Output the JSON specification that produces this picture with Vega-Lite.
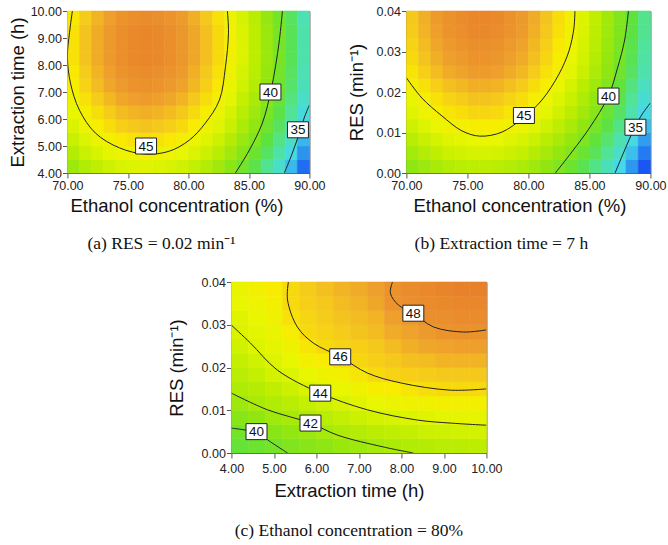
{
"$schema": "https://vega.github.io/schema/vega-lite/v6.json",
"background": "white",
"padding": {"left": 7, "top": 4, "right": 2, "bottom": 2},
"config": {
  "font": "Liberation Sans",
  "view": {"stroke": "#555", "strokeWidth": 1},
  "axis": {"labelFont": "Liberation Sans", "titleFont": "Liberation Sans", "labelFontSize": 12.5, "titleFontSize": 18.5, "titleFontWeight": "normal", "labelColor": "#222", "titleColor": "#111", "domainColor": "#555", "tickColor": "#555", "tickSize": 5, "grid": false, "labelPadding": 1, "labelFlush": false, "labelOverlap": false},
  "title": {"font": "Liberation Serif", "fontSize": 17.5, "fontWeight": "normal", "color": "#111"}
},
"datasets": {
"ha": [
{"i":0,"j":0,"v":41.6},{"i":1,"j":0,"v":42.4},{"i":2,"j":0,"v":43.0},{"i":3,"j":0,"v":43.5},{"i":4,"j":0,"v":43.9},{"i":5,"j":0,"v":44.1},{"i":6,"j":0,"v":44.2},{"i":7,"j":0,"v":44.1},{"i":8,"j":0,"v":43.9},{"i":9,"j":0,"v":43.6},{"i":10,"j":0,"v":43.1},{"i":11,"j":0,"v":42.5},{"i":12,"j":0,"v":41.8},{"i":13,"j":0,"v":40.9},{"i":14,"j":0,"v":39.8},{"i":15,"j":0,"v":38.7},{"i":16,"j":0,"v":37.3},{"i":17,"j":0,"v":35.9},{"i":18,"j":0,"v":34.3},{"i":19,"j":0,"v":32.5},
{"i":0,"j":1,"v":42.5},{"i":1,"j":1,"v":43.3},{"i":2,"j":1,"v":43.9},{"i":3,"j":1,"v":44.4},{"i":4,"j":1,"v":44.8},{"i":5,"j":1,"v":45.0},{"i":6,"j":1,"v":45.1},{"i":7,"j":1,"v":45.0},{"i":8,"j":1,"v":44.8},{"i":9,"j":1,"v":44.5},{"i":10,"j":1,"v":44.0},{"i":11,"j":1,"v":43.4},{"i":12,"j":1,"v":42.7},{"i":13,"j":1,"v":41.8},{"i":14,"j":1,"v":40.7},{"i":15,"j":1,"v":39.6},{"i":16,"j":1,"v":38.2},{"i":17,"j":1,"v":36.8},{"i":18,"j":1,"v":35.2},{"i":19,"j":1,"v":33.4},
{"i":0,"j":2,"v":43.3},{"i":1,"j":2,"v":44.1},{"i":2,"j":2,"v":44.7},{"i":3,"j":2,"v":45.2},{"i":4,"j":2,"v":45.6},{"i":5,"j":2,"v":45.8},{"i":6,"j":2,"v":45.9},{"i":7,"j":2,"v":45.8},{"i":8,"j":2,"v":45.6},{"i":9,"j":2,"v":45.3},{"i":10,"j":2,"v":44.8},{"i":11,"j":2,"v":44.2},{"i":12,"j":2,"v":43.5},{"i":13,"j":2,"v":42.6},{"i":14,"j":2,"v":41.5},{"i":15,"j":2,"v":40.4},{"i":16,"j":2,"v":39.0},{"i":17,"j":2,"v":37.6},{"i":18,"j":2,"v":36.0},{"i":19,"j":2,"v":34.2},
{"i":0,"j":3,"v":44.0},{"i":1,"j":3,"v":44.8},{"i":2,"j":3,"v":45.4},{"i":3,"j":3,"v":45.9},{"i":4,"j":3,"v":46.3},{"i":5,"j":3,"v":46.5},{"i":6,"j":3,"v":46.6},{"i":7,"j":3,"v":46.5},{"i":8,"j":3,"v":46.3},{"i":9,"j":3,"v":46.0},{"i":10,"j":3,"v":45.5},{"i":11,"j":3,"v":44.9},{"i":12,"j":3,"v":44.2},{"i":13,"j":3,"v":43.3},{"i":14,"j":3,"v":42.2},{"i":15,"j":3,"v":41.1},{"i":16,"j":3,"v":39.7},{"i":17,"j":3,"v":38.3},{"i":18,"j":3,"v":36.7},{"i":19,"j":3,"v":34.9},
{"i":0,"j":4,"v":44.5},{"i":1,"j":4,"v":45.3},{"i":2,"j":4,"v":45.9},{"i":3,"j":4,"v":46.4},{"i":4,"j":4,"v":46.8},{"i":5,"j":4,"v":47.0},{"i":6,"j":4,"v":47.1},{"i":7,"j":4,"v":47.0},{"i":8,"j":4,"v":46.8},{"i":9,"j":4,"v":46.5},{"i":10,"j":4,"v":46.0},{"i":11,"j":4,"v":45.4},{"i":12,"j":4,"v":44.7},{"i":13,"j":4,"v":43.8},{"i":14,"j":4,"v":42.7},{"i":15,"j":4,"v":41.6},{"i":16,"j":4,"v":40.2},{"i":17,"j":4,"v":38.8},{"i":18,"j":4,"v":37.2},{"i":19,"j":4,"v":35.4},
{"i":0,"j":5,"v":45.0},{"i":1,"j":5,"v":45.8},{"i":2,"j":5,"v":46.4},{"i":3,"j":5,"v":46.9},{"i":4,"j":5,"v":47.3},{"i":5,"j":5,"v":47.5},{"i":6,"j":5,"v":47.6},{"i":7,"j":5,"v":47.5},{"i":8,"j":5,"v":47.3},{"i":9,"j":5,"v":47.0},{"i":10,"j":5,"v":46.5},{"i":11,"j":5,"v":45.9},{"i":12,"j":5,"v":45.2},{"i":13,"j":5,"v":44.3},{"i":14,"j":5,"v":43.2},{"i":15,"j":5,"v":42.1},{"i":16,"j":5,"v":40.7},{"i":17,"j":5,"v":39.3},{"i":18,"j":5,"v":37.7},{"i":19,"j":5,"v":35.9},
{"i":0,"j":6,"v":45.4},{"i":1,"j":6,"v":46.2},{"i":2,"j":6,"v":46.8},{"i":3,"j":6,"v":47.3},{"i":4,"j":6,"v":47.7},{"i":5,"j":6,"v":47.9},{"i":6,"j":6,"v":48.0},{"i":7,"j":6,"v":47.9},{"i":8,"j":6,"v":47.7},{"i":9,"j":6,"v":47.4},{"i":10,"j":6,"v":46.9},{"i":11,"j":6,"v":46.3},{"i":12,"j":6,"v":45.6},{"i":13,"j":6,"v":44.7},{"i":14,"j":6,"v":43.6},{"i":15,"j":6,"v":42.5},{"i":16,"j":6,"v":41.1},{"i":17,"j":6,"v":39.7},{"i":18,"j":6,"v":38.1},{"i":19,"j":6,"v":36.3},
{"i":0,"j":7,"v":45.6},{"i":1,"j":7,"v":46.4},{"i":2,"j":7,"v":47.0},{"i":3,"j":7,"v":47.5},{"i":4,"j":7,"v":47.9},{"i":5,"j":7,"v":48.1},{"i":6,"j":7,"v":48.2},{"i":7,"j":7,"v":48.1},{"i":8,"j":7,"v":47.9},{"i":9,"j":7,"v":47.6},{"i":10,"j":7,"v":47.1},{"i":11,"j":7,"v":46.5},{"i":12,"j":7,"v":45.8},{"i":13,"j":7,"v":44.9},{"i":14,"j":7,"v":43.8},{"i":15,"j":7,"v":42.7},{"i":16,"j":7,"v":41.3},{"i":17,"j":7,"v":39.9},{"i":18,"j":7,"v":38.3},{"i":19,"j":7,"v":36.5},
{"i":0,"j":8,"v":45.8},{"i":1,"j":8,"v":46.6},{"i":2,"j":8,"v":47.2},{"i":3,"j":8,"v":47.7},{"i":4,"j":8,"v":48.1},{"i":5,"j":8,"v":48.3},{"i":6,"j":8,"v":48.4},{"i":7,"j":8,"v":48.3},{"i":8,"j":8,"v":48.1},{"i":9,"j":8,"v":47.8},{"i":10,"j":8,"v":47.3},{"i":11,"j":8,"v":46.7},{"i":12,"j":8,"v":46.0},{"i":13,"j":8,"v":45.1},{"i":14,"j":8,"v":44.0},{"i":15,"j":8,"v":42.9},{"i":16,"j":8,"v":41.5},{"i":17,"j":8,"v":40.1},{"i":18,"j":8,"v":38.5},{"i":19,"j":8,"v":36.7},
{"i":0,"j":9,"v":45.8},{"i":1,"j":9,"v":46.6},{"i":2,"j":9,"v":47.2},{"i":3,"j":9,"v":47.7},{"i":4,"j":9,"v":48.1},{"i":5,"j":9,"v":48.3},{"i":6,"j":9,"v":48.4},{"i":7,"j":9,"v":48.3},{"i":8,"j":9,"v":48.1},{"i":9,"j":9,"v":47.8},{"i":10,"j":9,"v":47.3},{"i":11,"j":9,"v":46.7},{"i":12,"j":9,"v":46.0},{"i":13,"j":9,"v":45.1},{"i":14,"j":9,"v":44.0},{"i":15,"j":9,"v":42.9},{"i":16,"j":9,"v":41.5},{"i":17,"j":9,"v":40.1},{"i":18,"j":9,"v":38.5},{"i":19,"j":9,"v":36.7},
{"i":0,"j":10,"v":45.8},{"i":1,"j":10,"v":46.6},{"i":2,"j":10,"v":47.2},{"i":3,"j":10,"v":47.7},{"i":4,"j":10,"v":48.1},{"i":5,"j":10,"v":48.3},{"i":6,"j":10,"v":48.4},{"i":7,"j":10,"v":48.3},{"i":8,"j":10,"v":48.1},{"i":9,"j":10,"v":47.8},{"i":10,"j":10,"v":47.3},{"i":11,"j":10,"v":46.7},{"i":12,"j":10,"v":46.0},{"i":13,"j":10,"v":45.1},{"i":14,"j":10,"v":44.0},{"i":15,"j":10,"v":42.9},{"i":16,"j":10,"v":41.5},{"i":17,"j":10,"v":40.1},{"i":18,"j":10,"v":38.5},{"i":19,"j":10,"v":36.7},
{"i":0,"j":11,"v":45.6},{"i":1,"j":11,"v":46.4},{"i":2,"j":11,"v":47.0},{"i":3,"j":11,"v":47.5},{"i":4,"j":11,"v":47.9},{"i":5,"j":11,"v":48.1},{"i":6,"j":11,"v":48.2},{"i":7,"j":11,"v":48.1},{"i":8,"j":11,"v":47.9},{"i":9,"j":11,"v":47.6},{"i":10,"j":11,"v":47.1},{"i":11,"j":11,"v":46.5},{"i":12,"j":11,"v":45.8},{"i":13,"j":11,"v":44.9},{"i":14,"j":11,"v":43.8},{"i":15,"j":11,"v":42.7},{"i":16,"j":11,"v":41.3},{"i":17,"j":11,"v":39.9},{"i":18,"j":11,"v":38.3},{"i":19,"j":11,"v":36.5}
],
"hb": [
{"i":0,"j":0,"v":41.0},{"i":1,"j":0,"v":41.6},{"i":2,"j":0,"v":42.1},{"i":3,"j":0,"v":42.5},{"i":4,"j":0,"v":42.7},{"i":5,"j":0,"v":42.9},{"i":6,"j":0,"v":42.9},{"i":7,"j":0,"v":42.8},{"i":8,"j":0,"v":42.5},{"i":9,"j":0,"v":42.2},{"i":10,"j":0,"v":41.7},{"i":11,"j":0,"v":41.1},{"i":12,"j":0,"v":40.4},{"i":13,"j":0,"v":39.6},{"i":14,"j":0,"v":38.6},{"i":15,"j":0,"v":37.5},{"i":16,"j":0,"v":36.3},{"i":17,"j":0,"v":35.0},{"i":18,"j":0,"v":33.5},{"i":19,"j":0,"v":31.9},
{"i":0,"j":1,"v":41.9},{"i":1,"j":1,"v":42.5},{"i":2,"j":1,"v":43.0},{"i":3,"j":1,"v":43.4},{"i":4,"j":1,"v":43.6},{"i":5,"j":1,"v":43.8},{"i":6,"j":1,"v":43.8},{"i":7,"j":1,"v":43.7},{"i":8,"j":1,"v":43.4},{"i":9,"j":1,"v":43.1},{"i":10,"j":1,"v":42.6},{"i":11,"j":1,"v":42.0},{"i":12,"j":1,"v":41.3},{"i":13,"j":1,"v":40.5},{"i":14,"j":1,"v":39.5},{"i":15,"j":1,"v":38.4},{"i":16,"j":1,"v":37.2},{"i":17,"j":1,"v":35.9},{"i":18,"j":1,"v":34.4},{"i":19,"j":1,"v":32.8},
{"i":0,"j":2,"v":42.7},{"i":1,"j":2,"v":43.3},{"i":2,"j":2,"v":43.8},{"i":3,"j":2,"v":44.2},{"i":4,"j":2,"v":44.4},{"i":5,"j":2,"v":44.6},{"i":6,"j":2,"v":44.6},{"i":7,"j":2,"v":44.5},{"i":8,"j":2,"v":44.2},{"i":9,"j":2,"v":43.9},{"i":10,"j":2,"v":43.4},{"i":11,"j":2,"v":42.8},{"i":12,"j":2,"v":42.1},{"i":13,"j":2,"v":41.3},{"i":14,"j":2,"v":40.3},{"i":15,"j":2,"v":39.2},{"i":16,"j":2,"v":38.0},{"i":17,"j":2,"v":36.7},{"i":18,"j":2,"v":35.2},{"i":19,"j":2,"v":33.6},
{"i":0,"j":3,"v":43.5},{"i":1,"j":3,"v":44.1},{"i":2,"j":3,"v":44.6},{"i":3,"j":3,"v":45.0},{"i":4,"j":3,"v":45.2},{"i":5,"j":3,"v":45.4},{"i":6,"j":3,"v":45.4},{"i":7,"j":3,"v":45.3},{"i":8,"j":3,"v":45.0},{"i":9,"j":3,"v":44.7},{"i":10,"j":3,"v":44.2},{"i":11,"j":3,"v":43.6},{"i":12,"j":3,"v":42.9},{"i":13,"j":3,"v":42.1},{"i":14,"j":3,"v":41.1},{"i":15,"j":3,"v":40.0},{"i":16,"j":3,"v":38.8},{"i":17,"j":3,"v":37.5},{"i":18,"j":3,"v":36.0},{"i":19,"j":3,"v":34.4},
{"i":0,"j":4,"v":44.2},{"i":1,"j":4,"v":44.8},{"i":2,"j":4,"v":45.3},{"i":3,"j":4,"v":45.7},{"i":4,"j":4,"v":45.9},{"i":5,"j":4,"v":46.1},{"i":6,"j":4,"v":46.1},{"i":7,"j":4,"v":46.0},{"i":8,"j":4,"v":45.7},{"i":9,"j":4,"v":45.4},{"i":10,"j":4,"v":44.9},{"i":11,"j":4,"v":44.3},{"i":12,"j":4,"v":43.6},{"i":13,"j":4,"v":42.8},{"i":14,"j":4,"v":41.8},{"i":15,"j":4,"v":40.7},{"i":16,"j":4,"v":39.5},{"i":17,"j":4,"v":38.2},{"i":18,"j":4,"v":36.7},{"i":19,"j":4,"v":35.1},
{"i":0,"j":5,"v":44.7},{"i":1,"j":5,"v":45.3},{"i":2,"j":5,"v":45.8},{"i":3,"j":5,"v":46.2},{"i":4,"j":5,"v":46.4},{"i":5,"j":5,"v":46.6},{"i":6,"j":5,"v":46.6},{"i":7,"j":5,"v":46.5},{"i":8,"j":5,"v":46.2},{"i":9,"j":5,"v":45.9},{"i":10,"j":5,"v":45.4},{"i":11,"j":5,"v":44.8},{"i":12,"j":5,"v":44.1},{"i":13,"j":5,"v":43.3},{"i":14,"j":5,"v":42.3},{"i":15,"j":5,"v":41.2},{"i":16,"j":5,"v":40.0},{"i":17,"j":5,"v":38.7},{"i":18,"j":5,"v":37.2},{"i":19,"j":5,"v":35.6},
{"i":0,"j":6,"v":45.2},{"i":1,"j":6,"v":45.8},{"i":2,"j":6,"v":46.3},{"i":3,"j":6,"v":46.7},{"i":4,"j":6,"v":46.9},{"i":5,"j":6,"v":47.1},{"i":6,"j":6,"v":47.1},{"i":7,"j":6,"v":47.0},{"i":8,"j":6,"v":46.7},{"i":9,"j":6,"v":46.4},{"i":10,"j":6,"v":45.9},{"i":11,"j":6,"v":45.3},{"i":12,"j":6,"v":44.6},{"i":13,"j":6,"v":43.8},{"i":14,"j":6,"v":42.8},{"i":15,"j":6,"v":41.7},{"i":16,"j":6,"v":40.5},{"i":17,"j":6,"v":39.2},{"i":18,"j":6,"v":37.7},{"i":19,"j":6,"v":36.1},
{"i":0,"j":7,"v":45.7},{"i":1,"j":7,"v":46.3},{"i":2,"j":7,"v":46.8},{"i":3,"j":7,"v":47.2},{"i":4,"j":7,"v":47.4},{"i":5,"j":7,"v":47.6},{"i":6,"j":7,"v":47.6},{"i":7,"j":7,"v":47.5},{"i":8,"j":7,"v":47.2},{"i":9,"j":7,"v":46.9},{"i":10,"j":7,"v":46.4},{"i":11,"j":7,"v":45.8},{"i":12,"j":7,"v":45.1},{"i":13,"j":7,"v":44.3},{"i":14,"j":7,"v":43.3},{"i":15,"j":7,"v":42.2},{"i":16,"j":7,"v":41.0},{"i":17,"j":7,"v":39.7},{"i":18,"j":7,"v":38.2},{"i":19,"j":7,"v":36.6},
{"i":0,"j":8,"v":46.0},{"i":1,"j":8,"v":46.6},{"i":2,"j":8,"v":47.1},{"i":3,"j":8,"v":47.5},{"i":4,"j":8,"v":47.7},{"i":5,"j":8,"v":47.9},{"i":6,"j":8,"v":47.9},{"i":7,"j":8,"v":47.8},{"i":8,"j":8,"v":47.5},{"i":9,"j":8,"v":47.2},{"i":10,"j":8,"v":46.7},{"i":11,"j":8,"v":46.1},{"i":12,"j":8,"v":45.4},{"i":13,"j":8,"v":44.6},{"i":14,"j":8,"v":43.6},{"i":15,"j":8,"v":42.5},{"i":16,"j":8,"v":41.3},{"i":17,"j":8,"v":40.0},{"i":18,"j":8,"v":38.5},{"i":19,"j":8,"v":36.9},
{"i":0,"j":9,"v":46.2},{"i":1,"j":9,"v":46.8},{"i":2,"j":9,"v":47.3},{"i":3,"j":9,"v":47.7},{"i":4,"j":9,"v":47.9},{"i":5,"j":9,"v":48.1},{"i":6,"j":9,"v":48.1},{"i":7,"j":9,"v":48.0},{"i":8,"j":9,"v":47.7},{"i":9,"j":9,"v":47.4},{"i":10,"j":9,"v":46.9},{"i":11,"j":9,"v":46.3},{"i":12,"j":9,"v":45.6},{"i":13,"j":9,"v":44.8},{"i":14,"j":9,"v":43.8},{"i":15,"j":9,"v":42.7},{"i":16,"j":9,"v":41.5},{"i":17,"j":9,"v":40.2},{"i":18,"j":9,"v":38.7},{"i":19,"j":9,"v":37.1},
{"i":0,"j":10,"v":46.4},{"i":1,"j":10,"v":47.0},{"i":2,"j":10,"v":47.5},{"i":3,"j":10,"v":47.9},{"i":4,"j":10,"v":48.1},{"i":5,"j":10,"v":48.3},{"i":6,"j":10,"v":48.3},{"i":7,"j":10,"v":48.2},{"i":8,"j":10,"v":47.9},{"i":9,"j":10,"v":47.6},{"i":10,"j":10,"v":47.1},{"i":11,"j":10,"v":46.5},{"i":12,"j":10,"v":45.8},{"i":13,"j":10,"v":45.0},{"i":14,"j":10,"v":44.0},{"i":15,"j":10,"v":42.9},{"i":16,"j":10,"v":41.7},{"i":17,"j":10,"v":40.4},{"i":18,"j":10,"v":38.9},{"i":19,"j":10,"v":37.3},
{"i":0,"j":11,"v":46.5},{"i":1,"j":11,"v":47.1},{"i":2,"j":11,"v":47.6},{"i":3,"j":11,"v":48.0},{"i":4,"j":11,"v":48.2},{"i":5,"j":11,"v":48.4},{"i":6,"j":11,"v":48.4},{"i":7,"j":11,"v":48.3},{"i":8,"j":11,"v":48.0},{"i":9,"j":11,"v":47.7},{"i":10,"j":11,"v":47.2},{"i":11,"j":11,"v":46.6},{"i":12,"j":11,"v":45.9},{"i":13,"j":11,"v":45.1},{"i":14,"j":11,"v":44.1},{"i":15,"j":11,"v":43.0},{"i":16,"j":11,"v":41.8},{"i":17,"j":11,"v":40.5},{"i":18,"j":11,"v":39.0},{"i":19,"j":11,"v":37.4}
],
"hc": [
{"i":0,"j":0,"v":39.3},{"i":1,"j":0,"v":39.6},{"i":2,"j":0,"v":39.9},{"i":3,"j":0,"v":40.4},{"i":4,"j":0,"v":40.7},{"i":5,"j":0,"v":41.0},{"i":6,"j":0,"v":41.4},{"i":7,"j":0,"v":41.6},{"i":8,"j":0,"v":41.9},{"i":9,"j":0,"v":42.2},{"i":10,"j":0,"v":42.4},{"i":11,"j":0,"v":42.6},{"i":12,"j":0,"v":42.7},{"i":13,"j":0,"v":42.8},{"i":14,"j":0,"v":42.9},
{"i":0,"j":1,"v":39.9},{"i":1,"j":1,"v":40.1},{"i":2,"j":1,"v":40.8},{"i":3,"j":1,"v":41.2},{"i":4,"j":1,"v":41.5},{"i":5,"j":1,"v":41.9},{"i":6,"j":1,"v":42.3},{"i":7,"j":1,"v":42.5},{"i":8,"j":1,"v":42.8},{"i":9,"j":1,"v":43.0},{"i":10,"j":1,"v":43.2},{"i":11,"j":1,"v":43.4},{"i":12,"j":1,"v":43.5},{"i":13,"j":1,"v":43.6},{"i":14,"j":1,"v":43.7},
{"i":0,"j":2,"v":40.8},{"i":1,"j":2,"v":41.1},{"i":2,"j":2,"v":41.7},{"i":3,"j":2,"v":42.0},{"i":4,"j":2,"v":42.3},{"i":5,"j":2,"v":42.7},{"i":6,"j":2,"v":43.1},{"i":7,"j":2,"v":43.4},{"i":8,"j":2,"v":43.7},{"i":9,"j":2,"v":43.9},{"i":10,"j":2,"v":44.1},{"i":11,"j":2,"v":44.2},{"i":12,"j":2,"v":44.3},{"i":13,"j":2,"v":44.4},{"i":14,"j":2,"v":44.4},
{"i":0,"j":3,"v":41.6},{"i":1,"j":3,"v":42.1},{"i":2,"j":3,"v":42.4},{"i":3,"j":3,"v":42.7},{"i":4,"j":3,"v":43.1},{"i":5,"j":3,"v":43.5},{"i":6,"j":3,"v":43.9},{"i":7,"j":3,"v":44.2},{"i":8,"j":3,"v":44.5},{"i":9,"j":3,"v":44.7},{"i":10,"j":3,"v":44.9},{"i":11,"j":3,"v":45.0},{"i":12,"j":3,"v":45.2},{"i":13,"j":3,"v":45.2},{"i":14,"j":3,"v":45.2},
{"i":0,"j":4,"v":42.3},{"i":1,"j":4,"v":42.6},{"i":2,"j":4,"v":43.0},{"i":3,"j":4,"v":43.4},{"i":4,"j":4,"v":43.9},{"i":5,"j":4,"v":44.3},{"i":6,"j":4,"v":44.6},{"i":7,"j":4,"v":44.9},{"i":8,"j":4,"v":45.3},{"i":9,"j":4,"v":45.5},{"i":10,"j":4,"v":45.7},{"i":11,"j":4,"v":45.9},{"i":12,"j":4,"v":46.0},{"i":13,"j":4,"v":46.0},{"i":14,"j":4,"v":46.0},
{"i":0,"j":5,"v":42.7},{"i":1,"j":5,"v":43.1},{"i":2,"j":5,"v":43.7},{"i":3,"j":5,"v":44.1},{"i":4,"j":5,"v":44.5},{"i":5,"j":5,"v":44.9},{"i":6,"j":5,"v":45.2},{"i":7,"j":5,"v":45.7},{"i":8,"j":5,"v":46.0},{"i":9,"j":5,"v":46.2},{"i":10,"j":5,"v":46.3},{"i":11,"j":5,"v":46.4},{"i":12,"j":5,"v":46.5},{"i":13,"j":5,"v":46.5},{"i":14,"j":5,"v":46.5},
{"i":0,"j":6,"v":43.2},{"i":1,"j":6,"v":43.6},{"i":2,"j":6,"v":44.1},{"i":3,"j":6,"v":44.5},{"i":4,"j":6,"v":45.1},{"i":5,"j":6,"v":45.5},{"i":6,"j":6,"v":45.9},{"i":7,"j":6,"v":46.1},{"i":8,"j":6,"v":46.3},{"i":9,"j":6,"v":46.5},{"i":10,"j":6,"v":46.7},{"i":11,"j":6,"v":46.8},{"i":12,"j":6,"v":47.0},{"i":13,"j":6,"v":47.0},{"i":14,"j":6,"v":47.0},
{"i":0,"j":7,"v":43.6},{"i":1,"j":7,"v":44.1},{"i":2,"j":7,"v":44.4},{"i":3,"j":7,"v":44.9},{"i":4,"j":7,"v":45.7},{"i":5,"j":7,"v":46.0},{"i":6,"j":7,"v":46.2},{"i":7,"j":7,"v":46.3},{"i":8,"j":7,"v":46.5},{"i":9,"j":7,"v":46.8},{"i":10,"j":7,"v":47.1},{"i":11,"j":7,"v":47.3},{"i":12,"j":7,"v":47.4},{"i":13,"j":7,"v":47.5},{"i":14,"j":7,"v":47.5},
{"i":0,"j":8,"v":44.0},{"i":1,"j":8,"v":44.3},{"i":2,"j":8,"v":44.7},{"i":3,"j":8,"v":45.3},{"i":4,"j":8,"v":46.0},{"i":5,"j":8,"v":46.2},{"i":6,"j":8,"v":46.4},{"i":7,"j":8,"v":46.6},{"i":8,"j":8,"v":46.8},{"i":9,"j":8,"v":47.2},{"i":10,"j":8,"v":47.4},{"i":11,"j":8,"v":47.7},{"i":12,"j":8,"v":47.9},{"i":13,"j":8,"v":48.0},{"i":14,"j":8,"v":48.0},
{"i":0,"j":9,"v":44.2},{"i":1,"j":9,"v":44.6},{"i":2,"j":9,"v":44.9},{"i":3,"j":9,"v":45.8},{"i":4,"j":9,"v":46.1},{"i":5,"j":9,"v":46.4},{"i":6,"j":9,"v":46.6},{"i":7,"j":9,"v":46.8},{"i":8,"j":9,"v":47.0},{"i":9,"j":9,"v":47.5},{"i":10,"j":9,"v":47.8},{"i":11,"j":9,"v":48.1},{"i":12,"j":9,"v":48.1},{"i":13,"j":9,"v":48.2},{"i":14,"j":9,"v":48.2},
{"i":0,"j":10,"v":44.5},{"i":1,"j":10,"v":44.8},{"i":2,"j":10,"v":45.2},{"i":3,"j":10,"v":46.0},{"i":4,"j":10,"v":46.3},{"i":5,"j":10,"v":46.5},{"i":6,"j":10,"v":46.8},{"i":7,"j":10,"v":47.0},{"i":8,"j":10,"v":47.3},{"i":9,"j":10,"v":47.9},{"i":10,"j":10,"v":48.1},{"i":11,"j":10,"v":48.2},{"i":12,"j":10,"v":48.3},{"i":13,"j":10,"v":48.4},{"i":14,"j":10,"v":48.4},
{"i":0,"j":11,"v":44.7},{"i":1,"j":11,"v":45.1},{"i":2,"j":11,"v":45.5},{"i":3,"j":11,"v":46.0},{"i":4,"j":11,"v":46.4},{"i":5,"j":11,"v":46.7},{"i":6,"j":11,"v":47.0},{"i":7,"j":11,"v":47.2},{"i":8,"j":11,"v":47.5},{"i":9,"j":11,"v":48.0},{"i":10,"j":11,"v":48.2},{"i":11,"j":11,"v":48.3},{"i":12,"j":11,"v":48.5},{"i":13,"j":11,"v":48.6},{"i":14,"j":11,"v":48.6}
],
"ca": [
{"lv":"45","o":0,"x":70.41,"y":10.0},{"lv":"45","o":1,"x":70.17,"y":9.19},{"lv":"45","o":2,"x":70.0,"y":8.3},{"lv":"45","o":3,"x":70.25,"y":7.33},{"lv":"45","o":4,"x":70.99,"y":6.33},{"lv":"45","o":5,"x":72.31,"y":5.48},{"lv":"45","o":6,"x":74.3,"y":4.93},{"lv":"45","o":7,"x":76.45,"y":4.7},{"lv":"45","o":8,"x":78.43,"y":4.81},{"lv":"45","o":9,"x":80.08,"y":5.22},{"lv":"45","o":10,"x":81.4,"y":5.85},{"lv":"45","o":11,"x":82.56,"y":6.7},{"lv":"45","o":12,"x":83.06,"y":7.93},{"lv":"45","o":13,"x":83.31,"y":9.19},{"lv":"45","o":14,"x":83.22,"y":10.0},
{"lv":"40","o":0,"x":83.88,"y":4.0},{"lv":"40","o":1,"x":85.04,"y":4.85},{"lv":"40","o":2,"x":86.11,"y":5.85},{"lv":"40","o":3,"x":86.78,"y":6.96},{"lv":"40","o":4,"x":87.19,"y":7.93},{"lv":"40","o":5,"x":87.52,"y":8.93},{"lv":"40","o":6,"x":87.77,"y":10.0},
{"lv":"35","o":0,"x":87.93,"y":4.0},{"lv":"35","o":1,"x":88.59,"y":4.74},{"lv":"35","o":2,"x":89.17,"y":5.48},{"lv":"35","o":3,"x":89.59,"y":6.07},{"lv":"35","o":4,"x":90.0,"y":6.52}
],
"la": [{"lv":"45","x":76.5,"y":5.0},{"lv":"40","x":86.78,"y":7.0},{"lv":"35","x":89.05,"y":5.6}],
"cb": [
{"lv":"45","o":0,"x":70.0,"y":0.0235},{"lv":"45","o":1,"x":71.27,"y":0.0185},{"lv":"45","o":2,"x":72.91,"y":0.0141},{"lv":"45","o":3,"x":74.55,"y":0.0104},{"lv":"45","o":4,"x":76.02,"y":0.0091},{"lv":"45","o":5,"x":77.83,"y":0.0101},{"lv":"45","o":6,"x":79.63,"y":0.0138},{"lv":"45","o":7,"x":81.1,"y":0.018},{"lv":"45","o":8,"x":82.5,"y":0.0244},{"lv":"45","o":9,"x":83.32,"y":0.0301},{"lv":"45","o":10,"x":83.73,"y":0.0358},{"lv":"45","o":11,"x":83.81,"y":0.04},
{"lv":"40","o":0,"x":82.21,"y":0.0},{"lv":"40","o":1,"x":83.61,"y":0.0054},{"lv":"40","o":2,"x":85.0,"y":0.0111},{"lv":"40","o":3,"x":86.56,"y":0.019},{"lv":"40","o":4,"x":87.3,"y":0.0259},{"lv":"40","o":5,"x":87.87,"y":0.0326},{"lv":"40","o":6,"x":88.2,"y":0.04},
{"lv":"35","o":0,"x":87.1,"y":0.0},{"lv":"35","o":1,"x":87.85,"y":0.0054},{"lv":"35","o":2,"x":88.69,"y":0.0111},{"lv":"35","o":3,"x":89.34,"y":0.0146},{"lv":"35","o":4,"x":90.0,"y":0.0173}
],
"lb": [{"lv":"45","x":79.63,"y":0.0142},{"lv":"40","x":86.56,"y":0.019},{"lv":"35","x":88.77,"y":0.0113}],
"cc": [
{"lv":"48","o":0,"x":7.79,"y":0.04},{"lv":"48","o":1,"x":7.74,"y":0.0374},{"lv":"48","o":2,"x":7.93,"y":0.0346},{"lv":"48","o":3,"x":8.28,"y":0.0327},{"lv":"48","o":4,"x":8.75,"y":0.0295},{"lv":"48","o":5,"x":9.46,"y":0.0283},{"lv":"48","o":6,"x":10.0,"y":0.0288},
{"lv":"46","o":0,"x":5.34,"y":0.04},{"lv":"46","o":1,"x":5.32,"y":0.0358},{"lv":"46","o":2,"x":5.55,"y":0.0295},{"lv":"46","o":3,"x":5.93,"y":0.0257},{"lv":"46","o":4,"x":6.56,"y":0.0225},{"lv":"46","o":5,"x":7.2,"y":0.0187},{"lv":"46","o":6,"x":7.98,"y":0.0164},{"lv":"46","o":7,"x":9.15,"y":0.0147},{"lv":"46","o":8,"x":10.0,"y":0.015},
{"lv":"44","o":0,"x":4.0,"y":0.0299},{"lv":"44","o":1,"x":4.45,"y":0.0257},{"lv":"44","o":2,"x":5.08,"y":0.0194},{"lv":"44","o":3,"x":6.09,"y":0.014},{"lv":"44","o":4,"x":7.2,"y":0.0101},{"lv":"44","o":5,"x":8.38,"y":0.0077},{"lv":"44","o":6,"x":9.15,"y":0.007},{"lv":"44","o":7,"x":10.0,"y":0.0065},
{"lv":"42","o":0,"x":4.0,"y":0.014},{"lv":"42","o":1,"x":4.85,"y":0.0101},{"lv":"42","o":2,"x":5.86,"y":0.007},{"lv":"42","o":3,"x":6.49,"y":0.0042},{"lv":"42","o":4,"x":7.58,"y":0.0014},{"lv":"42","o":5,"x":8.28,"y":0.0},
{"lv":"40","o":0,"x":4.0,"y":0.0058},{"lv":"40","o":1,"x":4.61,"y":0.0047},{"lv":"40","o":2,"x":4.92,"y":0.0026},{"lv":"40","o":3,"x":5.32,"y":0.0}
],
"lc": [{"lv":"48","x":8.28,"y":0.0327},{"lv":"46","x":6.56,"y":0.0225},{"lv":"44","x":6.09,"y":0.014},{"lv":"42","x":5.86,"y":0.007},{"lv":"40","x":4.59,"y":0.005}]
},
"vconcat": [
{
"hconcat": [
{
"width": 242, "height": 162,
"title": {"text": "(a) RES = 0.02 min⁻¹", "orient": "bottom", "anchor": "middle", "offset": 20, "dx": -27},
"layer": [
{"data": {"name": "ha"}, "mark": {"type": "rect", "strokeWidth": 0.6},
 "encoding": {
  "x": {"field": "i", "type": "ordinal", "axis": null, "scale": {"paddingInner": 0, "paddingOuter": 0}},
  "y": {"field": "j", "type": "ordinal", "axis": null, "sort": "descending", "scale": {"paddingInner": 0, "paddingOuter": 0}},
  "fill": {"field": "v", "type": "quantitative", "legend": null, "scale": {"type": "linear", "domain": [30,32.5,35,37,39,41,43,44.5,45.5,46.5,47.5,48.5,50], "range": ["#0a10f0","#1f6ef2","#45d8e8","#4fe3a0","#5ee23c","#8ee612","#c0ee00","#e8f600","#f8ec00","#f5c81c","#ee9f2c","#e8842a","#e05a26"], "interpolate": "rgb", "clamp": true}},
  "stroke": {"field": "v", "type": "quantitative", "legend": null, "scale": {"type": "linear", "domain": [30,32.5,35,37,39,41,43,44.5,45.5,46.5,47.5,48.5,50], "range": ["#0a10f0","#1f6ef2","#45d8e8","#4fe3a0","#5ee23c","#8ee612","#c0ee00","#e8f600","#f8ec00","#f5c81c","#ee9f2c","#e8842a","#e05a26"], "interpolate": "rgb", "clamp": true}}
 }},
{"data": {"name": "ca"}, "mark": {"type": "line", "interpolate": "catmull-rom", "stroke": "#222", "strokeWidth": 1, "clip": true},
 "encoding": {
  "x": {"field": "x", "type": "quantitative", "scale": {"domain": [70, 90], "nice": false, "zero": false}, "axis": {"orient": "bottom", "values": [70,75,80,85,90], "format": ".2f", "title": "Ethanol concentration (%)", "titlePadding": 5, "titleX": 109}},
  "y": {"field": "y", "type": "quantitative", "scale": {"domain": [4, 10], "nice": false, "zero": false}, "axis": {"orient": "left", "values": [4,5,6,7,8,9,10], "format": ".2f", "title": "Extraction time (h)", "titlePadding": 3}},
  "detail": {"field": "lv"},
  "order": {"field": "o", "type": "quantitative"}
 }},
{"data": {"name": "la"}, "mark": {"type": "point", "shape": "M-1.31,-1H1.31V1H-1.31Z", "filled": true, "fill": "white", "stroke": "#222", "strokeWidth": 1, "size": 256, "opacity": 1},
 "encoding": {
  "x": {"field": "x", "type": "quantitative", "scale": {"domain": [70, 90], "nice": false, "zero": false}, "axis": null},
  "y": {"field": "y", "type": "quantitative", "scale": {"domain": [4, 10], "nice": false, "zero": false}, "axis": null}
 }},
{"data": {"name": "la"}, "mark": {"type": "text", "font": "Liberation Sans", "fontSize": 13.5, "color": "#111", "baseline": "middle", "dy": 0.5},
 "encoding": {
  "x": {"field": "x", "type": "quantitative", "scale": {"domain": [70, 90], "nice": false, "zero": false}, "axis": null},
  "y": {"field": "y", "type": "quantitative", "scale": {"domain": [4, 10], "nice": false, "zero": false}, "axis": null},
  "text": {"field": "lv"}
 }}
],
"resolve": {"scale": {"x": "independent", "y": "independent"}}
},
{
"width": 244, "height": 162,
"title": {"text": "(b) Extraction time = 7 h", "orient": "bottom", "anchor": "middle", "offset": 20, "dx": -27},
"layer": [
{"data": {"name": "hb"}, "mark": {"type": "rect", "strokeWidth": 0.6},
 "encoding": {
  "x": {"field": "i", "type": "ordinal", "axis": null, "scale": {"paddingInner": 0, "paddingOuter": 0}},
  "y": {"field": "j", "type": "ordinal", "axis": null, "sort": "descending", "scale": {"paddingInner": 0, "paddingOuter": 0}},
  "fill": {"field": "v", "type": "quantitative", "legend": null, "scale": {"type": "linear", "domain": [30,32.5,35,37,39,41,43,44.5,45.5,46.5,47.5,48.5,50], "range": ["#0a10f0","#1f6ef2","#45d8e8","#4fe3a0","#5ee23c","#8ee612","#c0ee00","#e8f600","#f8ec00","#f5c81c","#ee9f2c","#e8842a","#e05a26"], "interpolate": "rgb", "clamp": true}},
  "stroke": {"field": "v", "type": "quantitative", "legend": null, "scale": {"type": "linear", "domain": [30,32.5,35,37,39,41,43,44.5,45.5,46.5,47.5,48.5,50], "range": ["#0a10f0","#1f6ef2","#45d8e8","#4fe3a0","#5ee23c","#8ee612","#c0ee00","#e8f600","#f8ec00","#f5c81c","#ee9f2c","#e8842a","#e05a26"], "interpolate": "rgb", "clamp": true}}
 }},
{"data": {"name": "cb"}, "mark": {"type": "line", "interpolate": "catmull-rom", "stroke": "#222", "strokeWidth": 1, "clip": true},
 "encoding": {
  "x": {"field": "x", "type": "quantitative", "scale": {"domain": [70, 90], "nice": false, "zero": false}, "axis": {"orient": "bottom", "values": [70,75,80,85,90], "format": ".2f", "title": "Ethanol concentration (%)", "titlePadding": 5, "titleX": 113}},
  "y": {"field": "y", "type": "quantitative", "scale": {"domain": [0, 0.04], "nice": false, "zero": false}, "axis": {"orient": "left", "values": [0,0.01,0.02,0.03,0.04], "format": ".2f", "title": "RES (min⁻¹)", "titlePadding": 10}},
  "detail": {"field": "lv"},
  "order": {"field": "o", "type": "quantitative"}
 }},
{"data": {"name": "lb"}, "mark": {"type": "point", "shape": "M-1.31,-1H1.31V1H-1.31Z", "filled": true, "fill": "white", "stroke": "#222", "strokeWidth": 1, "size": 256, "opacity": 1},
 "encoding": {
  "x": {"field": "x", "type": "quantitative", "scale": {"domain": [70, 90], "nice": false, "zero": false}, "axis": null},
  "y": {"field": "y", "type": "quantitative", "scale": {"domain": [0, 0.04], "nice": false, "zero": false}, "axis": null}
 }},
{"data": {"name": "lb"}, "mark": {"type": "text", "font": "Liberation Sans", "fontSize": 13.5, "color": "#111", "baseline": "middle", "dy": 0.5},
 "encoding": {
  "x": {"field": "x", "type": "quantitative", "scale": {"domain": [70, 90], "nice": false, "zero": false}, "axis": null},
  "y": {"field": "y", "type": "quantitative", "scale": {"domain": [0, 0.04], "nice": false, "zero": false}, "axis": null},
  "text": {"field": "lv"}
 }}
],
"resolve": {"scale": {"x": "independent", "y": "independent"}}
}
],
"spacing": 97,
"bounds": "flush"
},
{
"width": 255, "height": 171,
"title": {"text": "(c) Ethanol concentration = 80%", "orient": "bottom", "anchor": "middle", "offset": 22, "dx": -10},
"layer": [
{"data": {"name": "hc"}, "mark": {"type": "rect", "strokeWidth": 0.6},
 "encoding": {
  "x": {"field": "i", "type": "ordinal", "axis": null, "scale": {"paddingInner": 0, "paddingOuter": 0}},
  "y": {"field": "j", "type": "ordinal", "axis": null, "sort": "descending", "scale": {"paddingInner": 0, "paddingOuter": 0}},
  "fill": {"field": "v", "type": "quantitative", "legend": null, "scale": {"type": "linear", "domain": [30,32.5,35,37,39,41,43,44.5,45.5,46.5,47.5,48.5,50], "range": ["#0a10f0","#1f6ef2","#45d8e8","#4fe3a0","#5ee23c","#8ee612","#c0ee00","#e8f600","#f8ec00","#f5c81c","#ee9f2c","#e8842a","#e05a26"], "interpolate": "rgb", "clamp": true}},
  "stroke": {"field": "v", "type": "quantitative", "legend": null, "scale": {"type": "linear", "domain": [30,32.5,35,37,39,41,43,44.5,45.5,46.5,47.5,48.5,50], "range": ["#0a10f0","#1f6ef2","#45d8e8","#4fe3a0","#5ee23c","#8ee612","#c0ee00","#e8f600","#f8ec00","#f5c81c","#ee9f2c","#e8842a","#e05a26"], "interpolate": "rgb", "clamp": true}}
 }},
{"data": {"name": "cc"}, "mark": {"type": "line", "interpolate": "catmull-rom", "stroke": "#222", "strokeWidth": 1, "clip": true},
 "encoding": {
  "x": {"field": "x", "type": "quantitative", "scale": {"domain": [4, 10], "nice": false, "zero": false}, "axis": {"orient": "bottom", "values": [4,5,6,7,8,9,10], "format": ".2f", "title": "Extraction time (h)", "labelPadding": 4, "titlePadding": 7, "titleX": 117.5}},
  "y": {"field": "y", "type": "quantitative", "scale": {"domain": [0, 0.04], "nice": false, "zero": false}, "axis": {"orient": "left", "values": [0,0.01,0.02,0.03,0.04], "format": ".2f", "title": "RES (min⁻¹)", "titlePadding": 15}},
  "detail": {"field": "lv"},
  "order": {"field": "o", "type": "quantitative"}
 }},
{"data": {"name": "lc"}, "mark": {"type": "point", "shape": "M-1.31,-1H1.31V1H-1.31Z", "filled": true, "fill": "white", "stroke": "#222", "strokeWidth": 1, "size": 256, "opacity": 1},
 "encoding": {
  "x": {"field": "x", "type": "quantitative", "scale": {"domain": [4, 10], "nice": false, "zero": false}, "axis": null},
  "y": {"field": "y", "type": "quantitative", "scale": {"domain": [0, 0.04], "nice": false, "zero": false}, "axis": null}
 }},
{"data": {"name": "lc"}, "mark": {"type": "text", "font": "Liberation Sans", "fontSize": 13.5, "color": "#111", "baseline": "middle", "dy": 0.5},
 "encoding": {
  "x": {"field": "x", "type": "quantitative", "scale": {"domain": [4, 10], "nice": false, "zero": false}, "axis": null},
  "y": {"field": "y", "type": "quantitative", "scale": {"domain": [0, 0.04], "nice": false, "zero": false}, "axis": null},
  "text": {"field": "lv"}
 }}
],
"resolve": {"scale": {"x": "independent", "y": "independent"}}
}
],
"spacing": 22,
"center": true
}
